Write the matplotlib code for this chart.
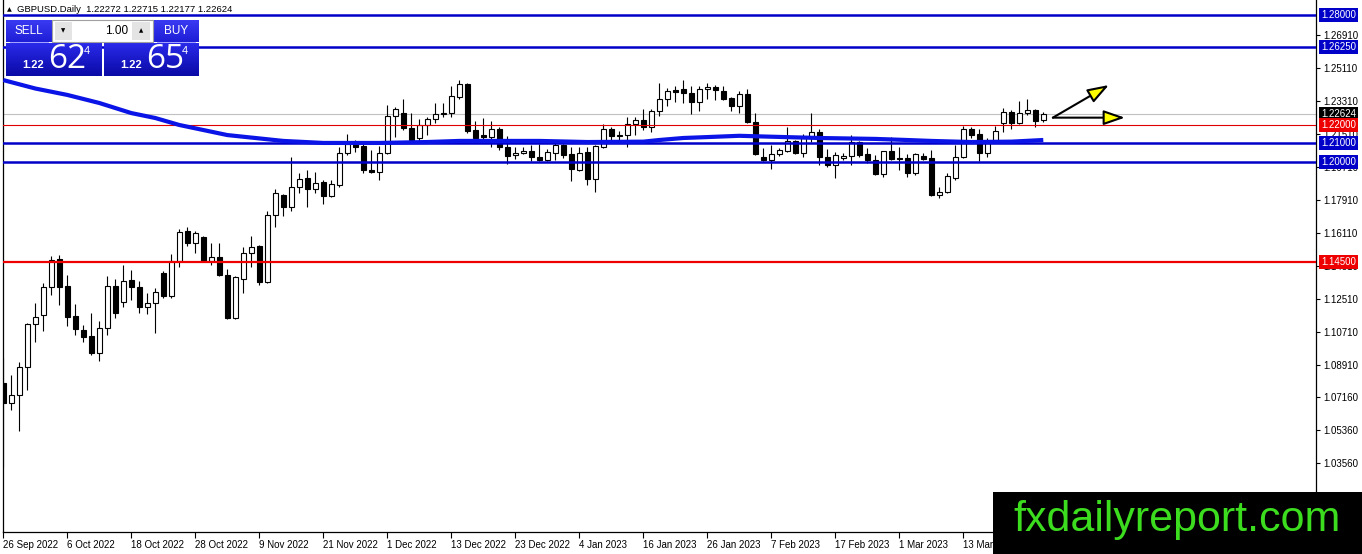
import numpy as np
import matplotlib
matplotlib.use('Agg')
import matplotlib.pyplot as plt
import matplotlib.transforms as mtransforms
from matplotlib.patches import Rectangle
from matplotlib.colors import LinearSegmentedColormap

plt.rcParams['font.family'] = ['Liberation Sans', 'DejaVu Sans']

# GBPUSD daily candles, 26 Sep 2022 .. 27 Mar 2023
opens = [1.0793, 1.0684, 1.0727, 1.0879, 1.1114, 1.1163, 1.1316, 1.1469, 1.1322, 1.1158,
         1.1082, 1.1049, 1.0957, 1.1092, 1.1322, 1.1234, 1.1354, 1.1316, 1.1207, 1.1229,
         1.1393, 1.1267, 1.1458, 1.1622, 1.1556, 1.1589, 1.1458, 1.1480, 1.1382, 1.1147,
         1.1360, 1.1502, 1.1540, 1.1343, 1.1709, 1.1818, 1.1753, 1.1862, 1.1911, 1.1851,
         1.1889, 1.1813, 1.1873, 1.2047, 1.2096, 1.2085, 1.1955, 1.1944, 1.2047, 1.2249,
         1.2265, 1.2184, 1.2129, 1.2200, 1.2233, 1.2262, 1.2265, 1.2353, 1.2424, 1.2173,
         1.2145, 1.2134, 1.2178, 1.2080, 1.2036, 1.2047, 1.2058, 1.2025, 1.2009, 1.2047,
         1.2091, 1.2042, 1.1955, 1.2053, 1.1905, 1.2080, 1.2178, 1.2140, 1.2145, 1.2205,
         1.2227, 1.2189, 1.2276, 1.2342, 1.2391, 1.2396, 1.2375, 1.2325, 1.2396, 1.2407,
         1.2385, 1.2347, 1.2304, 1.2369, 1.2216, 1.2025, 1.2009, 1.2042, 1.2058, 1.2113,
         1.2047, 1.2129, 1.2162, 1.2025, 1.1982, 1.2020, 1.2031, 1.2107, 1.2042, 1.2009,
         1.1933, 1.2058, 1.2020, 1.2020, 1.1938, 1.2031, 1.2020, 1.1818, 1.1835, 1.1911,
         1.2025, 1.2178, 1.2151, 1.2047, 1.2113, 1.2211, 1.2271, 1.2211, 1.2265, 1.2282,
         1.22272]
highs = [1.0929, 1.0836, 1.0907, 1.1120, 1.1229, 1.1338, 1.1486, 1.1491, 1.1382, 1.1223,
         1.1109, 1.1174, 1.1131, 1.1376, 1.1360, 1.1436, 1.1409, 1.1349, 1.1284, 1.1311,
         1.1404, 1.1496, 1.1633, 1.1644, 1.1622, 1.1595, 1.1556, 1.1556, 1.1415, 1.1376,
         1.1535, 1.1595, 1.1545, 1.1731, 1.1851, 1.1824, 1.2025, 1.1938, 1.1955, 1.1944,
         1.1900, 1.1900, 1.2080, 1.2151, 1.2118, 1.2113, 1.2064, 1.2085, 1.2309, 1.2298,
         1.2342, 1.2265, 1.2233, 1.2244, 1.2320, 1.2320, 1.2413, 1.2445, 1.2430, 1.2222,
         1.2238, 1.2222, 1.2189, 1.2140, 1.2080, 1.2080, 1.2091, 1.2096, 1.2069, 1.2113,
         1.2096, 1.2080, 1.2080, 1.2080, 1.2090, 1.2205, 1.2189, 1.2167, 1.2244, 1.2244,
         1.2287, 1.2287, 1.2429, 1.2402, 1.2413, 1.2445, 1.2413, 1.2413, 1.2429, 1.2418,
         1.2413, 1.2353, 1.2385, 1.2396, 1.2265, 1.2075, 1.2091, 1.2075, 1.2189, 1.2118,
         1.2151, 1.2265, 1.2178, 1.2069, 1.2053, 1.2047, 1.2145, 1.2113, 1.2075, 1.2036,
         1.2060, 1.2134, 1.2080, 1.2042, 1.2047, 1.2047, 1.2064, 1.1862, 1.1938, 1.2091,
         1.2195, 1.2189, 1.2178, 1.2129, 1.2195, 1.2293, 1.2282, 1.2331, 1.2342, 1.2287,
         1.22715]
lows = [1.0334, 1.0645, 1.0531, 1.0754, 1.1016, 1.1076, 1.1273, 1.1218, 1.1103, 1.1055,
        1.1016, 1.0945, 1.0913, 1.1055, 1.1147, 1.1207, 1.1245, 1.1174, 1.1169, 1.1065,
        1.1256, 1.1256, 1.1425, 1.1540, 1.1502, 1.1453, 1.1436, 1.1376, 1.1142, 1.1142,
        1.1284, 1.1425, 1.1327, 1.1340, 1.1644, 1.1704, 1.1731, 1.1829, 1.1753, 1.1829,
        1.1769, 1.1807, 1.1862, 1.2036, 1.2053, 1.1938, 1.1940, 1.1900, 1.2042, 1.2134,
        1.2173, 1.2113, 1.2107, 1.2145, 1.2211, 1.2244, 1.2244, 1.2342, 1.2156, 1.2113,
        1.2102, 1.2080, 1.2064, 1.1987, 1.2015, 1.2042, 1.2004, 1.2004, 1.2004, 1.2009,
        1.2020, 1.1895, 1.1949, 1.1873, 1.1835, 1.2075, 1.2118, 1.2107, 1.2080, 1.2145,
        1.2173, 1.2162, 1.2249, 1.2304, 1.2325, 1.2320, 1.2260, 1.2276, 1.2342, 1.2336,
        1.2336, 1.2276, 1.2265, 1.2211, 1.2036, 1.2004, 1.1960, 1.2031, 1.2053, 1.2042,
        1.2025, 1.2107, 1.1982, 1.1971, 1.1911, 1.2009, 1.1982, 1.2025, 1.1993, 1.1927,
        1.1916, 1.2009, 1.1955, 1.1916, 1.1927, 1.2009, 1.1813, 1.1802, 1.1829, 1.1900,
        1.2020, 1.2129, 1.2004, 1.2025, 1.2107, 1.2162, 1.2178, 1.2205, 1.2254, 1.2189,
        1.22177]
closes = [1.0684, 1.0727, 1.0879, 1.1114, 1.1152, 1.1316, 1.1464, 1.1316, 1.1152, 1.1087,
          1.1043, 1.0957, 1.1092, 1.1322, 1.1174, 1.1349, 1.1316, 1.1207, 1.1229, 1.1289,
          1.1267, 1.1458, 1.1616, 1.1556, 1.1611, 1.1458, 1.1480, 1.1382, 1.1147, 1.1371,
          1.1502, 1.1535, 1.1343, 1.1709, 1.1829, 1.1753, 1.1862, 1.1905, 1.1851, 1.1884,
          1.1813, 1.1878, 1.2047, 1.2096, 1.2080, 1.1955, 1.1944, 1.2047, 1.2249, 1.2287,
          1.2184, 1.2118, 1.2200, 1.2233, 1.2260, 1.2268, 1.2358, 1.2424, 1.2167, 1.2129,
          1.2134, 1.2178, 1.2080, 1.2031, 1.2047, 1.2058, 1.2025, 1.2009, 1.2053, 1.2091,
          1.2036, 1.1960, 1.2047, 1.1905, 1.2085, 1.2178, 1.2140, 1.2145, 1.2205, 1.2227,
          1.2189, 1.2276, 1.2342, 1.2385, 1.2380, 1.2375, 1.2325, 1.2396, 1.2407, 1.2391,
          1.2342, 1.2304, 1.2369, 1.2216, 1.2042, 1.2009, 1.2042, 1.2064, 1.2113, 1.2047,
          1.2129, 1.2162, 1.2025, 1.1982, 1.2036, 1.2031, 1.2107, 1.2036, 1.2009, 1.1933,
          1.2058, 1.2015, 1.2015, 1.1938, 1.2042, 1.2015, 1.1818, 1.1835, 1.1922, 1.2025,
          1.2178, 1.2145, 1.2047, 1.2102, 1.2167, 1.2271, 1.2211, 1.2265, 1.2282, 1.2222,
          1.22624]

# moving average (blue thick line), read at a few bars
ma_idx = [0, 4, 8, 12, 16, 19, 22, 28, 35, 40, 47, 53, 57, 67, 73, 80, 82, 85, 88,
          92, 96, 102, 109, 113, 116, 121, 126, 130]
ma_val = [1.2445, 1.2399, 1.2364, 1.2320, 1.2265, 1.2238, 1.2200, 1.2145, 1.2113,
          1.2102, 1.2102, 1.2107, 1.2113, 1.2113, 1.2107, 1.2109, 1.2118, 1.2129,
          1.2134, 1.2141, 1.2136, 1.2129, 1.2124, 1.2118, 1.2113, 1.2107, 1.2109, 1.2118]

blue_levels = [1.28, 1.2625, 1.21, 1.20]
red_levels = [1.22, 1.145]

ytick_vals = [1.26910, 1.25110, 1.23310, 1.21510, 1.19710, 1.17910, 1.16110, 1.14310,
              1.12510, 1.10710, 1.08910, 1.07160, 1.05360, 1.03560]
date_pos = list(range(0, 121, 8))
date_labels = ['26 Sep 2022', '6 Oct 2022', '18 Oct 2022', '28 Oct 2022', '9 Nov 2022',
               '21 Nov 2022', '1 Dec 2022', '13 Dec 2022', '23 Dec 2022', '4 Jan 2023',
               '16 Jan 2023', '26 Jan 2023', '7 Feb 2023', '17 Feb 2023', '1 Mar 2023',
               '13 Mar 2023']

# arrows drawn on the chart (bar index, price)
arrow_start = (131.2, 1.2240)
arrow_tips = [(138.2, 1.2418), (140.2, 1.2240)]

fig = plt.figure(figsize=(13.62, 5.54), dpi=100)
ax = fig.add_axes([3 / 1362, 22 / 554, 1313 / 1362, 532 / 554])

o = np.array(opens)
h = np.array(highs)
l = np.array(lows)
c = np.array(closes)
idx = np.arange(len(c))
up = c >= o

ax.vlines(idx, l, h, colors='black', lw=0.8, zorder=3)
ax.bar(idx, np.abs(c - o), bottom=np.minimum(o, c), width=0.62,
       color=np.where(up, 'white', 'black'), edgecolor='black', linewidth=0.8, zorder=4)

# levels
ax.axhline(c[-1], color='#c0c0c0', lw=0.8, zorder=2)
for lv in blue_levels:
    ax.axhline(lv, color='#0000c8', lw=1.8, zorder=5)
ax.axhline(red_levels[0], color='#e00000', lw=0.8, zorder=5)
ax.axhline(red_levels[1], color='#ee0000', lw=1.6, zorder=5)
ax.plot(ma_idx, ma_val, color='#0a14e6', lw=3, zorder=6, solid_capstyle='butt')

for tip in arrow_tips:
    ax.annotate('', xy=tip, xytext=arrow_start, annotation_clip=False,
                arrowprops=dict(arrowstyle='-|>,head_length=1.3,head_width=0.45',
                                fc='#ffff00', ec='black', lw=1.5, shrinkA=0, shrinkB=0),
                zorder=7)

ax.set_xlim(-0.0375, 164.09)
ax.set_ylim(0.9979, 1.2882)

ax.yaxis.tick_right()
ax.set_yticks(ytick_vals)
ax.set_yticklabels([f'{v:.5f}' for v in ytick_vals])
ax.tick_params(axis='y', direction='out', length=3, width=0.8, pad=2, labelsize=7)
ax.set_xticks(date_pos)
ax.set_xticklabels(date_labels)
for t in ax.get_xticklabels():
    t.set_ha('left')
ax.tick_params(axis='x', direction='out', length=4, width=0.8, pad=2, labelsize=7)
ax.spines['top'].set_visible(False)
for s in ['left', 'right', 'bottom']:
    ax.spines[s].set_linewidth(0.9)

# price boxes on the right scale
trans = mtransforms.blended_transform_factory(ax.transAxes, ax.transData)
boxes = [(1.28, '#0000c8'), (1.2625, '#0000c8'), (c[-1], 'black'), (1.22, '#ee0000'),
         (1.21, '#0000c8'), (1.20, '#0000c8'), (1.145, '#ee0000')]
for val, col in boxes:
    ax.text(1.0038, val, f'{val:.5f}', transform=trans, color='white', fontsize=7,
            va='center', ha='left', clip_on=False, zorder=8,
            bbox=dict(boxstyle='square,pad=0.2', fc=col, ec='none'))

# overlay in pixel units for the trading panel, header and logo
ui = fig.add_axes([0, 0, 1, 1])
ui.set_zorder(10)
ui.patch.set_visible(False)
ui.axis('off')


def grad_rect(x0, y0, w, hh, c_top, c_bot):
    cmap = LinearSegmentedColormap.from_list('g', [c_top, c_bot])
    ui.imshow(np.linspace(0, 1, 40).reshape(-1, 1), extent=(x0, x0 + w, y0 + hh, y0),
              cmap=cmap, aspect='auto', origin='upper', zorder=1)


ui.text(7, 10, '▲', fontsize=4.5, family='DejaVu Sans', va='center')
ui.text(17, 10, 'GBPUSD.Daily  1.22272 1.22715 1.22177 1.22624', fontsize=6.8, va='center')

grad_rect(6, 20, 46, 22, '#3a3af2', '#1e1ed6')
grad_rect(153, 20, 46, 22, '#3a3af2', '#1e1ed6')
grad_rect(6, 43, 96, 33, '#2a2aea', '#0a0aa6')
grad_rect(104, 43, 95, 33, '#2a2aea', '#0a0aa6')
ui.add_patch(Rectangle((52, 20), 101, 22, fc='white', ec='#a0a0a0', lw=0.8, zorder=2))
ui.add_patch(Rectangle((55, 22), 17, 18, fc='#e4e4e4', ec='none', zorder=3))
ui.add_patch(Rectangle((132, 22), 18, 18, fc='#e4e4e4', ec='none', zorder=3))
ui.text(63.5, 31, '▼', fontsize=4, family='DejaVu Sans', ha='center', va='center', zorder=4)
ui.text(141, 31, '▲', fontsize=4, family='DejaVu Sans', ha='center', va='center', zorder=4)
ui.text(128, 31, '1.00', fontsize=8.5, ha='right', va='center', zorder=4)
ui.plot([10, 48], [42, 42], color='#9090ff', lw=0.6, zorder=3)
ui.plot([157, 195], [42, 42], color='#9090ff', lw=0.6, zorder=3)
ui.text(29, 31, 'SELL', color='white', fontsize=8.5, ha='center', va='center', zorder=4)
ui.text(176, 31, 'BUY', color='white', fontsize=8.5, ha='center', va='center', zorder=4)
for x0, big in [(22, '62'), (120, '65')]:
    ui.text(x0, 65, '1.22', color='white', fontsize=8, fontweight='bold', va='center', zorder=4)
    ui.text(x0 + 26, 60, big, color='white', fontsize=24, family='Open Sans',
            va='center', zorder=4)
    ui.text(x0 + 62, 51, '4', color='white', fontsize=8, va='center', zorder=4)

ui.add_patch(Rectangle((993, 492), 369, 62, fc='black', ec='none', zorder=5))
ui.text(1177, 520, 'fxdailyreport.com', color='#3cdc1e', fontsize=31,
        ha='center', va='center', zorder=6)

ui.set_xlim(0, 1362)
ui.set_ylim(554, 0)

fig.savefig('out.png', dpi=100, facecolor='white')
